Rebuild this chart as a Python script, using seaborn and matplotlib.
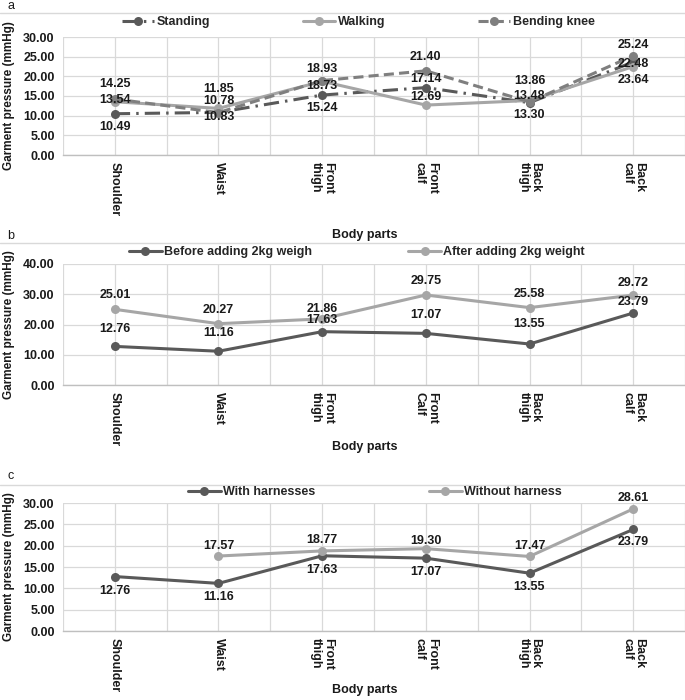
import numpy as np
import pandas as pd
import matplotlib.pyplot as plt
import seaborn as sns
from matplotlib.lines import Line2D

# data
parts_a = ["Shoulder", "Waist", "Front\nthigh", "Front\ncalf", "Back\nthigh", "Back\ncalf"]
parts_b = ["Shoulder", "Waist", "Front\nthigh", "Front\nCalf", "Back\nthigh", "Back\ncalf"]
parts_c = ["Shoulder", "Waist", "Front\nthigh", "Front\ncalf", "Back\nthigh", "Back\ncalf"]

standing = [10.49, 10.83, 15.24, 17.14, 13.30, 23.64]
walking = [13.54, 11.85, 18.73, 12.69, 13.86, 22.48]
bending = [14.25, 10.78, 18.93, 21.40, 13.48, 25.24]

before_w = [12.76, 11.16, 17.63, 17.07, 13.55, 23.79]
after_w = [25.01, 20.27, 21.86, 29.75, 25.58, 29.72]

with_h = [12.76, 11.16, 17.63, 17.07, 13.55, 23.79]
without_h = [np.nan, 17.57, 18.77, 19.30, 17.47, 28.61]

# label offsets in pixels (up = +)
off_a = [[-13, -5, -13, 9, -12, -18], [2, 19, -5, 8, 19, 3], [15, 12, 12, 14, 6, 11]]
off_b = [[17, 18, 12, 18, 20, 11], [14, 14, 10, 14, 14, 12]]
off_c = [[-14, -14, -14, -14, -14, -13], [0, 10, 11, 8, 10, 11]]

DARK, LIGHT, MID = "#595959", "#a6a6a6", "#7f7f7f"

sns.set_theme(style="white")
plt.rcParams["font.family"] = ["Liberation Sans", "DejaVu Sans"]
plt.rcParams["font.weight"] = "bold"

fig = plt.figure(figsize=(6.85, 7.0), dpi=100)
W, H = 685, 700


def draw_panel(ax, parts, names, series, colors, dashes, offsets, ymax, ystep):
    rows = []
    for name, vals in zip(names, series):
        for i, v in enumerate(vals):
            rows.append({"pos": i, "series": name, "value": v})
    df = pd.DataFrame(rows)
    sns.lineplot(data=df, x="pos", y="value", hue="series", style="series",
                 palette=dict(zip(names, colors)), dashes=dict(zip(names, dashes)),
                 markers={n: "o" for n in names}, markersize=6.5, linewidth=2.2,
                 markeredgewidth=0, legend=False, sort=False, ax=ax)
    for vals, offs in zip(series, offsets):
        for i, (v, o) in enumerate(zip(vals, offs)):
            if np.isnan(v):
                continue
            ax.annotate(f"{v:.2f}", (i, v), xytext=(0, o), textcoords="offset pixels",
                        ha="center", va="center", fontsize=9, fontweight="bold",
                        color="#1a1a1a")
    ax.set_xlim(-0.5, 5.5)
    ax.set_ylim(0, ymax)
    ax.set_yticks(np.arange(0, ymax + 0.01, ystep))
    ax.set_yticklabels([f"{t:.2f}" for t in np.arange(0, ymax + 0.01, ystep)],
                       fontsize=9, fontweight="bold", color="#1a1a1a")
    ax.set_xticks(range(len(parts)))
    ax.set_xticklabels(parts, rotation=-90, ha="center", va="top",
                       multialignment="left", fontsize=9, fontweight="bold",
                       color="#1a1a1a", linespacing=1.0)
    ax.set_xticks(np.arange(-0.5, 6, 1), minor=True)
    ax.grid(which="major", color="#d9d9d9", lw=0.9)
    ax.grid(which="minor", axis="x", color="#d9d9d9", lw=0.9)
    ax.tick_params(which="both", length=0)
    ax.tick_params(axis="x", pad=5)
    ax.tick_params(axis="y", pad=6)
    ax.set_xlabel("")
    ax.set_ylabel("")
    for s in ["left", "right", "top"]:
        ax.spines[s].set_visible(False)
    ax.spines["bottom"].set_color("#bfbfbf")
    ax.spines["bottom"].set_linewidth(1.0)


def panel_box(top, bottom):
    return [63 / W, (H - bottom) / H, (W - 63) / W, (bottom - top) / H]


def add_legend(names, colors, dashes, xc, yc, colsp):
    handles = []
    for n, c, d in zip(names, colors, dashes):
        ls = "-" if d == "" else (0, d)
        handles.append(Line2D([], [], color=c, lw=2.2, ls=ls, marker="o",
                              ms=6.5, mew=0))
    fig.legend(handles, names, loc="center", bbox_to_anchor=(xc / W, 1 - yc / H),
               ncol=len(names), frameon=False, handlelength=2.6, handletextpad=0.2,
               columnspacing=colsp, prop={"size": 9, "weight": "bold"})


dash_st = (5, 2, 0.8, 2)
dash_bk = (3.3, 1.7)

# panel a
ax_a = fig.add_axes(panel_box(37, 155))
names_a = ["Standing", "Walking", "Bending knee"]
draw_panel(ax_a, parts_a, names_a, [standing, walking, bending],
           [DARK, LIGHT, MID], [dash_st, "", dash_bk], off_a, 30, 5)
add_legend(names_a, [DARK, LIGHT, MID], [dash_st, "", dash_bk], 358, 22, 7.4)

# panel b
ax_b = fig.add_axes(panel_box(264, 385))
names_b = ["Before adding 2kg weigh", "After adding 2kg weight"]
draw_panel(ax_b, parts_b, names_b, [before_w, after_w],
           [DARK, LIGHT], ["", ""], off_b, 40, 10)
add_legend(names_b, [DARK, LIGHT], ["", ""], 357, 252, 7.7)

# panel c
ax_c = fig.add_axes(panel_box(503, 631))
names_c = ["With harnesses", "Without harness"]
draw_panel(ax_c, parts_c, names_c, [with_h, without_h],
           [DARK, LIGHT], ["", ""], off_c, 30, 5)
add_legend(names_c, [DARK, LIGHT], ["", ""], 375, 492, 9.1)

# decorations: panel letters, separators, axis titles
for letter, y in [("a", 6), ("b", 236), ("c", 476)]:
    fig.text(7 / W, 1 - y / H, letter, fontsize=9, fontweight="normal",
             ha="left", va="center", color="#1a1a1a")
for y in [13, 243, 485]:
    fig.add_artist(Line2D([0, 1], [1 - y / H, 1 - y / H], color="#d9d9d9", lw=1.0,
                          transform=fig.transFigure))
for y in [235, 447, 690]:
    fig.text(365 / W, 1 - y / H, "Body parts", fontsize=9, fontweight="bold",
             ha="center", va="center", color="#1a1a1a")
for y in [96, 325, 567]:
    fig.text(9 / W, 1 - y / H, "Garment pressure (mmHg)", fontsize=8.5,
             fontweight="bold", rotation=90, ha="center", va="center",
             color="#1a1a1a")

fig.savefig("out.png", dpi=100)
